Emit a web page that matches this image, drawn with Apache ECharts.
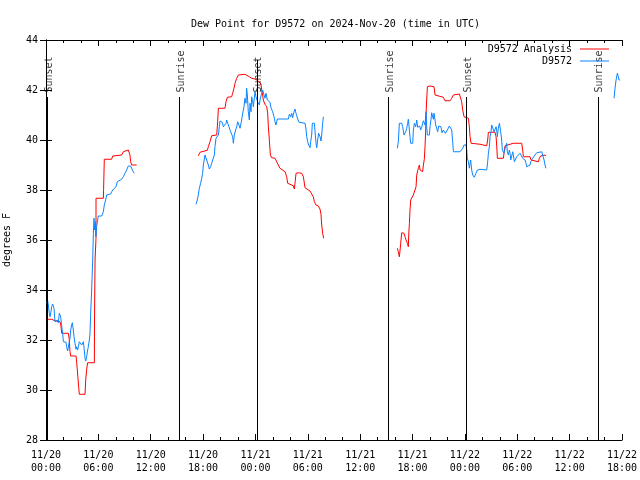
<!DOCTYPE html>
<html><head><meta charset="utf-8">
<script src="https://cdn.jsdelivr.net/npm/echarts@6/dist/echarts.min.js"></script>
<style>html,body{margin:0;padding:0;background:#fff}#c{width:640px;height:480px}</style>
</head><body><div id="c"></div>
<script>
// hours since 2024-11-20 00:00 UTC, dew point (F)
const analysis1 = [[0.08,32.83],[0.65,32.83],[1.03,32.77],[1.6,32.73],[1.7,32.6],[1.8,32.27],[2.56,32.27],[2.65,32.07],[2.75,31.53],[2.83,31.36],[3.44,31.36],[3.52,31.09],[3.65,30.53],[3.75,30.09],[3.82,29.83],[4.47,29.83],[4.55,30.4],[4.66,30.83],[4.77,31.09],[5.54,31.09],[5.56,32.8],[5.62,35.2],[5.73,36.07],[5.73,37.67],[6.57,37.67],[6.6,38.03],[6.68,39.23],[7.52,39.23],[7.64,39.36],[7.79,39.4],[8.67,39.4],[8.86,39.53],[9.05,39.6],[9.43,39.6],[9.62,39.4],[9.7,39.13],[9.82,39.0],[10.39,39.0]];
const analysis2 = [[17.45,39.37],[17.65,39.51],[17.84,39.59],[18.49,39.59],[18.6,39.73],[18.79,39.93],[18.98,40.17],[19.56,40.2],[19.67,40.73],[19.75,41.27],[20.51,41.27],[20.63,41.53],[20.78,41.71],[21.27,41.73],[21.39,41.87],[21.54,42.07],[21.66,42.27],[21.85,42.47],[22.04,42.6],[22.8,42.63],[22.99,42.6],[23.3,42.53],[23.57,42.47],[23.95,42.44],[24.14,42.4],[24.33,42.36],[24.52,42.33],[24.64,42.23],[24.71,42.0],[24.83,41.8],[24.9,41.6],[25.09,41.43],[25.29,41.33],[25.4,41.07],[25.48,40.53],[25.59,40.0],[25.71,39.4],[25.86,39.29],[26.24,39.27],[26.43,39.2],[26.62,39.0],[26.81,38.87],[27.0,38.8],[27.39,38.73],[27.58,38.53],[27.69,38.27],[27.84,38.2],[28.34,38.17],[28.46,38.04],[28.57,38.4],[28.65,38.67],[28.91,38.69],[29.3,38.67],[29.49,38.53],[29.68,38.09],[29.87,38.04],[30.25,37.96],[30.44,37.89],[30.63,37.73],[30.75,37.53],[30.94,37.4],[31.21,37.36],[31.4,37.23],[31.51,37.03],[31.59,36.6],[31.7,36.27],[31.82,36.07]];
const analysis3 = [[40.26,35.67],[40.37,35.53],[40.45,35.57],[40.49,35.33],[40.57,35.6],[40.64,35.87],[40.76,36.29],[40.87,36.33],[41.02,36.27],[41.14,36.13],[41.25,36.0],[41.41,35.87],[41.52,35.73],[41.56,36.2],[41.64,36.67],[41.71,37.2],[41.79,37.6],[41.9,37.67],[42.09,37.8],[42.28,37.87],[42.4,38.13],[42.48,38.6],[42.59,38.77],[42.7,38.91],[42.78,39.0],[42.86,38.8],[42.97,38.73],[43.16,38.73],[43.24,39.0],[43.35,39.23],[43.43,39.73],[43.51,40.4],[43.55,41.07],[43.62,41.6],[43.7,42.13],[44.0,42.16],[44.46,42.13],[44.58,41.8],[44.77,41.73],[45.53,41.71],[45.72,41.57],[46.3,41.57],[46.49,41.67],[46.68,41.8],[46.87,41.84],[47.37,41.84],[47.52,41.8],[47.63,41.53],[47.75,41.2],[47.9,40.93],[48.01,40.87],[48.4,40.87],[48.51,40.53],[48.59,40.13],[48.7,39.87],[48.78,39.83],[49.73,39.83],[49.92,39.77],[50.5,39.77],[50.61,40.0],[50.69,40.31],[51.45,40.31],[51.57,40.13],[51.64,39.8],[51.72,39.27],[52.41,39.27],[52.48,39.47],[52.6,39.77],[52.79,39.8],[53.55,39.87],[54.51,39.87],[54.62,39.6],[54.7,39.33],[55.46,39.33],[55.58,39.2],[55.65,39.13],[56.42,39.13],[56.53,39.27],[56.68,39.36],[57.18,39.4],[57.29,39.36]];

const station1 = [[0.08,33.47],[0.19,33.57],[0.27,33.4],[0.38,33.07],[0.46,32.93],[0.57,33.13],[0.65,33.33],[0.76,33.44],[0.84,33.47],[0.92,33.27],[1.03,32.73],[1.22,32.69],[1.30,32.8],[1.41,32.69],[1.53,33.07],[1.68,32.93],[1.76,32.67],[1.83,32.47],[1.91,32.27],[1.99,31.93],[2.29,31.91],[2.37,31.73],[2.48,31.56],[2.56,31.53],[2.67,31.93],[2.75,32.07],[2.83,32.4],[2.94,32.6],[3.02,32.69],[3.13,32.4],[3.21,32.13],[3.32,31.87],[3.44,31.63],[3.51,31.73],[3.63,31.6],[3.71,31.73],[3.82,31.93],[3.9,31.87],[4.01,31.91],[4.09,31.8],[4.2,31.87],[4.28,31.93],[4.35,31.73],[4.47,31.27],[4.55,31.16],[4.66,31.33],[4.77,31.6],[4.85,31.73],[4.97,32.0],[5.04,32.27],[5.12,33.07],[5.23,34.0],[5.35,35.2],[5.43,36.27],[5.5,36.87],[5.57,36.4],[5.65,36.73],[5.72,36.13],[5.8,36.53],[5.99,36.96],[6.38,36.96],[6.49,36.91],[6.57,37.13],[6.68,37.4],[6.83,37.6],[6.95,37.8],[7.07,37.84],[7.41,37.84],[7.52,37.93],[7.72,38.03],[7.8,38.11],[8.02,38.13],[8.17,38.33],[8.29,38.4],[8.67,38.43],[8.86,38.53],[9.05,38.67],[9.24,38.8],[9.43,38.96],[9.55,38.99],[9.7,38.96],[9.9,38.8],[10.1,38.67]];
const station2 = [[17.19,37.43],[17.34,37.6],[17.45,37.8],[17.57,38.07],[17.72,38.27],[17.84,38.47],[17.95,38.67],[18.03,39.0],[18.22,39.4],[18.33,39.33],[18.41,39.2],[18.6,39.0],[18.72,38.84],[18.87,38.93],[18.98,39.07],[19.17,39.13],[19.29,39.4],[19.36,39.73],[19.48,40.07],[19.63,40.13],[19.75,40.2],[19.86,40.53],[19.94,40.76],[20.05,40.8],[20.2,40.71],[20.32,40.53],[20.43,40.6],[20.51,40.47],[20.63,40.67],[20.7,40.8],[20.82,40.67],[20.97,40.53],[21.08,40.4],[21.27,40.33],[21.39,40.13],[21.47,39.87],[21.58,40.2],[21.73,40.4],[21.85,40.53],[21.96,40.73],[22.11,40.6],[22.23,40.47],[22.34,40.53],[22.42,40.8],[22.54,41.07],[22.69,41.33],[22.8,41.67],[22.92,41.47],[22.99,42.07],[23.07,41.8],[23.18,41.13],[23.3,40.8],[23.38,41.47],[23.49,41.13],[23.57,41.73],[23.68,41.53],[23.76,41.33],[23.87,41.4],[23.95,41.93],[24.06,41.73],[24.14,41.8],[24.25,41.53],[24.33,41.47],[24.45,41.4],[24.52,41.6],[24.64,41.53],[24.71,41.87],[24.83,42.0],[24.98,41.8],[25.09,41.67],[25.21,41.87],[25.36,41.6],[25.51,41.67],[25.67,41.51],[25.78,41.29],[25.86,41.37],[25.97,41.13],[26.13,40.93],[26.24,40.73],[26.35,40.6],[26.51,40.84],[26.81,40.84],[27.77,40.84],[27.88,41.03],[28.04,40.93],[28.15,41.07],[28.26,40.89],[28.42,41.13],[28.53,41.24],[28.65,41.07],[28.72,40.97],[28.84,40.84],[28.99,40.71],[29.1,40.67],[29.68,40.67],[29.79,40.44],[29.87,40.13],[29.98,39.93],[30.1,39.8],[30.25,39.69],[30.33,39.93],[30.44,40.2],[30.52,40.67],[30.75,40.67],[30.86,40.2],[30.94,39.87],[31.02,39.69],[31.13,40.0],[31.24,40.27],[31.4,40.13],[31.51,39.96],[31.59,40.2],[31.7,40.67],[31.78,40.93]];
const station3 = [[40.26,39.67],[40.37,39.93],[40.49,40.67],[40.76,40.67],[40.87,40.53],[41.02,40.2],[41.14,40.13],[41.22,40.33],[41.33,40.47],[41.44,40.67],[41.52,40.83],[41.6,40.53],[41.71,40.13],[41.79,39.87],[42.02,39.87],[42.09,40.4],[42.21,40.67],[42.28,40.69],[42.36,40.53],[42.48,40.8],[42.59,40.51],[42.7,40.43],[42.82,40.56],[42.93,40.4],[43.05,40.51],[43.16,40.67],[43.24,40.77],[43.35,40.73],[43.43,40.6],[43.55,41.13],[43.62,40.53],[43.7,40.2],[43.93,40.2],[44.0,40.53],[44.12,40.83],[44.19,41.09],[44.31,41.13],[44.39,40.83],[44.46,41.07],[44.58,40.8],[44.65,40.6],[44.77,40.47],[44.88,40.33],[45.0,40.56],[45.15,40.6],[45.26,40.53],[45.38,40.29],[45.53,40.4],[45.65,40.33],[45.76,40.27],[45.91,40.2],[45.99,40.4],[46.1,40.47],[46.22,40.56],[46.37,40.6],[46.49,40.4],[46.6,39.93],[46.68,39.53],[47.44,39.53],[47.63,39.57],[47.75,39.67],[47.9,39.8],[48.01,39.87],[48.13,39.8],[48.21,39.6],[48.28,39.27],[48.4,39.13],[48.51,38.87],[48.59,39.07],[48.66,39.2],[48.78,38.8],[48.89,38.6],[48.97,38.53],[49.08,38.51],[49.2,38.53],[49.27,38.67],[49.43,38.8],[49.73,38.83],[50.5,38.8],[50.61,39.13],[50.69,39.47],[50.8,39.73],[50.88,40.13],[50.99,40.33],[51.07,40.6],[51.18,40.67],[51.26,40.53],[51.34,40.33],[51.45,40.4],[51.57,40.53],[51.64,40.4],[51.72,40.13],[51.83,40.47],[51.95,40.67],[52.02,40.6],[52.1,40.33],[52.21,40.0],[52.29,39.6],[52.41,39.67],[52.48,39.47],[52.6,39.67],[52.71,39.73],[52.79,39.87],[52.86,39.53],[52.98,39.4],[53.09,39.6],[53.17,39.47],[53.25,39.2],[53.36,39.27],[53.48,39.53],[53.55,39.4],[53.67,39.13],[53.74,39.2],[53.93,39.33],[54.12,39.4],[54.32,39.47],[54.43,39.53],[54.51,39.49],[54.62,39.27],[54.7,39.2],[54.89,39.2],[55.0,39.07],[55.08,38.93],[55.27,38.93],[55.46,39.0],[55.54,39.13],[55.65,39.2],[55.77,39.27],[55.92,39.33],[56.03,39.4],[56.23,39.49],[56.8,39.53],[56.99,39.53],[57.07,39.2],[57.18,39.0],[57.29,38.87]];
const station4 = [[65.09,41.67],[65.2,42.07],[65.32,42.4],[65.47,42.67],[65.58,42.53],[65.66,42.4],[65.77,42.4]];

const sunsetHours = [0.17, 24.2, 48.2];
const sunriseHours = [15.3, 39.25, 63.25];
const xTicksHours = [0, 6, 12, 18, 24, 30, 36, 42, 48, 54, 60, 66];

const FONT = '"DejaVu Sans Mono", "Liberation Mono", monospace';
const Y_MIN = 28, Y_MAX = 44;
const LINE_TOP = 41.72;     // where sun event lines stop
const LABEL_ANCHOR = 41.88; // bottom of rotated label text

function fmtTick(h) {
  const d = 20 + Math.floor(h / 24);
  const hh = h % 24;
  return '11/' + d + '\n' + String(hh).padStart(2, '0') + ':00';
}

const sunLines = [];
const sunLabels = [];
sunsetHours.forEach(h => {
  sunLines.push([{ coord: [h, Y_MIN] }, { coord: [h, h > 20 && h < 30 ? 43.2 : LINE_TOP] }]);
  sunLabels.push([h, LABEL_ANCHOR, 'Sunset']);
});
sunriseHours.forEach(h => {
  sunLines.push([{ coord: [h, Y_MIN] }, { coord: [h, LINE_TOP] }]);
  sunLabels.push([h, LABEL_ANCHOR, 'Sunrise']);
});

const RED = '#ff0000', BLUE = '#0a84ff';
function lineSeries(name, data, color, z) {
  return { name, type: 'line', data, symbol: 'none', showSymbol: false, z,
    lineStyle: { color, width: 1 }, itemStyle: { color }, animation: false, silent: true };
}

const axisCommon = {
  type: 'value',
  axisLine: { show: true, lineStyle: { color: '#000', width: 1 } },
  axisTick: { show: true, inside: true, length: 6, lineStyle: { color: '#000' } },
  splitLine: { show: false }
};

const legendCommon = {
  right: 31, align: 'right', icon: 'rect', itemWidth: 29, itemHeight: 1, padding: 0,
  selectedMode: false,
  textStyle: { fontFamily: FONT, fontSize: 10, color: '#000', padding: [0, 3, 0, 0] }
};

const option = {
  backgroundColor: '#fff',
  animation: false,
  title: {
    text: 'Dew Point for D9572 on 2024-Nov-20 (time in UTC)',
    left: 186, top: 14,
    textStyle: { fontFamily: FONT, fontSize: 10, fontWeight: 'normal', color: '#000' }
  },
  legend: [
    Object.assign({}, legendCommon, { data: ['D9572 Analysis'], top: 44 }),
    Object.assign({}, legendCommon, { data: ['D9572'], top: 56 })
  ],
  grid: { left: 46, right: 18, top: 40, bottom: 40, containLabel: false, outerBoundsMode: 'none' },
  xAxis: [
    Object.assign({}, axisCommon, {
      position: 'bottom', min: xTicksHours[0], max: xTicksHours[xTicksHours.length - 1], interval: 6,
      minorTick: { show: true, splitNumber: 3, length: 3, lineStyle: { color: '#000' } },
      axisLabel: { formatter: fmtTick, fontFamily: FONT, fontSize: 10, color: '#000', lineHeight: 13, margin: 9,
        showMinLabel: true, showMaxLabel: true }
    }),
    Object.assign({}, axisCommon, {
      position: 'top', min: xTicksHours[0], max: xTicksHours[xTicksHours.length - 1], interval: 6,
      minorTick: { show: true, splitNumber: 3, length: 3, lineStyle: { color: '#000' } },
      axisLabel: { show: false }
    })
  ],
  yAxis: [
    Object.assign({}, axisCommon, {
      position: 'left', min: Y_MIN, max: Y_MAX, interval: 2,
      name: 'degrees F', nameLocation: 'middle', nameGap: 34, nameRotate: 90,
      nameTextStyle: { fontFamily: FONT, fontSize: 10, color: '#000' },
      axisLabel: { fontFamily: FONT, fontSize: 10, color: '#000', margin: 8 }
    }),
    Object.assign({}, axisCommon, {
      position: 'right', min: Y_MIN, max: Y_MAX, interval: 2,
      axisLabel: { show: false }
    })
  ],
  series: [
    {
      name: 'sun', type: 'scatter', data: sunLabels, symbolSize: 1, silent: true,
      itemStyle: { color: 'transparent' },
      label: { show: true, position: [2, 0], formatter: p => p.data[2], rotate: 90, align: 'left', verticalAlign: 'middle',
        fontFamily: FONT, fontSize: 10, color: '#000' },
      markLine: { silent: true, symbol: ['none', 'none'], animation: false,
        lineStyle: { color: '#000', width: 1, type: 'solid' }, label: { show: false }, data: sunLines },
      z: 1
    },
    lineSeries('D9572 Analysis', analysis1, RED, 2),
    lineSeries('D9572 Analysis', analysis2, RED, 2),
    lineSeries('D9572 Analysis', analysis3, RED, 2),
    lineSeries('D9572', station1, BLUE, 3),
    lineSeries('D9572', station2, BLUE, 3),
    lineSeries('D9572', station3, BLUE, 3),
    lineSeries('D9572', station4, BLUE, 3)
  ]
};

const chart = echarts.init(document.getElementById('c'), null, { renderer: 'canvas' });
chart.setOption(option);
</script>
</body></html>
